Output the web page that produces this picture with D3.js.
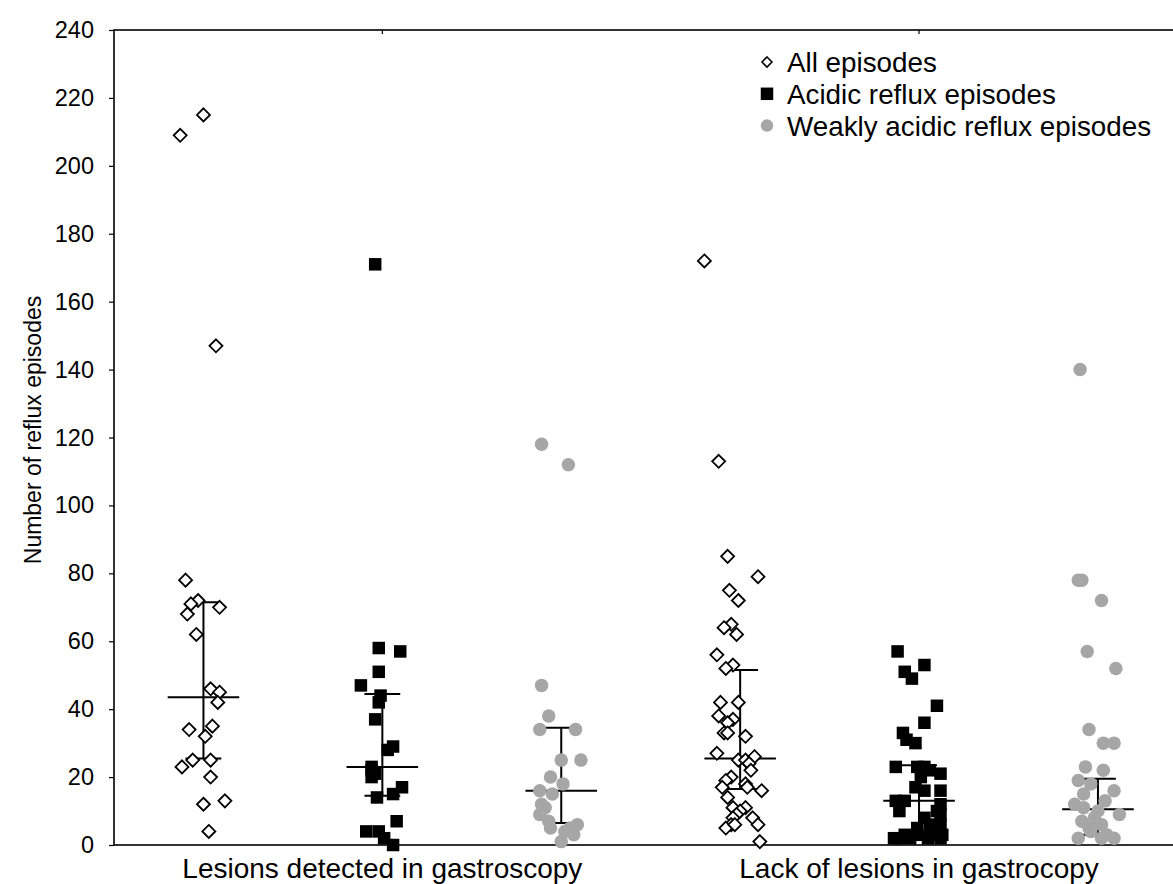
<!DOCTYPE html>
<html>
<head>
<meta charset="utf-8">
<script src="https://cdn.jsdelivr.net/npm/d3@7"></script>
<style>
    body { margin: 0; background: #ffffff; }
    text { font-family: "Liberation Sans", Arial, sans-serif; fill: #000000; }
</style>
</head>
<body>
<div id="chart"></div>
<script>
/**
 * Scatter of reflux episodes per patient, with median and quartile bars,
 * for patients with and without lesions in gastroscopy.
 */

// category labels under the x axis (centred on the middle column of a group)
let groupLabels = ["Lesions detected in gastroscopy", "Lack of lesions in gastrocopy"];
let groupPositions = [2, 5];

let seriesNames = ["All episodes", "Acidic reflux episodes", "Weakly acidic reflux episodes"];

// column index on the x axis, 1..6
let columns = [1, 2, 3, 4, 5, 6];

// values per column
let values1 = [209, 215, 147, 78, 72, 71, 70, 68, 62, 46, 45, 42, 34, 35, 32, 25, 25, 23, 20, 13, 12, 4];
let values2 = [171, 58, 57, 51, 47, 44, 42, 37, 29, 28, 23, 22, 21, 20, 17, 15, 14, 7, 4, 4, 2, 0];
let values3 = [118, 112, 47, 38, 34, 34, 25, 25, 20, 18, 16, 15, 12, 11, 9, 7, 5, 6, 5, 4, 3, 1];
let values4 = [172, 113, 85, 79, 75, 72, 65, 64, 62, 56, 53, 52, 42, 42, 38, 37, 36, 33, 33, 32, 27,
               25, 25, 26, 24, 22, 20, 19, 18, 17, 17, 16, 14, 11, 11, 10, 9, 8, 8, 6, 5, 6, 6, 1];
let values5 = [57, 53, 51, 49, 41, 36, 33, 31, 30, 23, 23, 23, 22, 21, 20, 17, 16, 16, 13, 13, 12,
               10, 10, 8, 9, 5, 6, 6, 3, 2, 3, 3, 3, 2, 2, 2, 2];
let values6 = [140, 78, 78, 72, 57, 52, 34, 30, 30, 23, 22, 19, 16, 18, 15, 13, 12, 9, 11, 8, 7, 6,
               5, 2, 2, 2, 4, 10, 3];

// horizontal scatter of each point around its column (in column units)
let jitter1 = [-0.13, 0.00, 0.07, -0.10, -0.03, -0.07, 0.09, -0.09, -0.04, 0.04, 0.09, 0.08, -0.08,
               0.05, 0.01, -0.06, 0.04, -0.12, 0.04, 0.12, 0.00, 0.03];
let jitter2 = [-0.04, -0.02, 0.10, -0.02, -0.12, -0.01, -0.02, -0.04, 0.06, 0.03, -0.06, -0.06,
               -0.04, -0.06, 0.11, 0.06, -0.03, 0.08, -0.09, -0.02, 0.01, 0.06];
let jitter3 = [-0.11, 0.04, -0.11, -0.07, -0.12, 0.08, 0.00, 0.11, -0.06, 0.01, -0.12, -0.05, -0.11,
               -0.09, -0.12, -0.07, -0.06, 0.09, 0.05, 0.02, 0.07, 0.00];
let jitter4 = [-0.20, -0.12, -0.07, 0.10, -0.06, -0.01, -0.05, -0.09, -0.02, -0.13, -0.04, -0.08,
               -0.11, -0.01, -0.12, -0.04, -0.07, -0.09, -0.07, 0.03, -0.13, -0.01, 0.03, 0.08,
               0.05, 0.06, -0.05, -0.08, 0.03, -0.10, 0.04, 0.12, -0.07, -0.04, 0.03, 0.00, -0.02,
               -0.04, 0.07, -0.05, -0.08, 0.10, -0.03, 0.11];
let jitter5 = [-0.12, 0.03, -0.08, -0.04, 0.10, 0.03, -0.09, -0.07, -0.02, -0.13, -0.01, 0.03, 0.06,
               0.12, 0.01, -0.02, 0.03, 0.12, -0.08, -0.13, 0.12, -0.11, 0.10, 0.03, 0.12, -0.01,
               0.06, 0.12, -0.08, -0.14, -0.01, 0.07, 0.13, -0.11, 0.05, 0.12, -0.05];
let jitter6 = [-0.10, -0.11, -0.09, 0.02, -0.06, 0.10, -0.05, 0.03, 0.09, -0.07, 0.03, -0.11, 0.09,
               -0.04, -0.08, 0.04, -0.13, 0.12, -0.08, -0.02, -0.09, 0.02, -0.05, -0.11, 0.09,
               0.02, -0.04, 0.00, 0.05];

// median, lower and upper quartile per column
let medians = [43.5, 23, 16, 25.5, 13, 10.5];
let lowerQuartiles = [25.5, 14.5, 6.5, 16.5, 4, 3];
let upperQuartiles = [71.5, 44.5, 34.5, 51.5, 23.5, 19.5];

let yTicks = d3.range(0, 241, 20);


window.onload = function() {
    let dims = {w: 1173, h: 884, left: 114, top: 30, bottom: 845, step: 178.9};

    let svg = d3.select("#chart")
                .append("svg")
                .attr("width", dims.w)
                .attr("height", dims.h);

    let xScale = d3.scaleLinear()
                   .domain([0.5, 6.5])
                   .range([dims.left, dims.left + 6 * dims.step]);

    let yScale = d3.scaleLinear()
                   .domain([0, 240])
                   .range([dims.bottom, dims.top]);

    drawFrame(svg, xScale, yScale, dims);
    drawSummaries(svg, xScale, yScale);

    let allValues = [values1, values2, values3, values4, values5, values6];
    let allJitter = [jitter1, jitter2, jitter3, jitter4, jitter5, jitter6];

    columns.forEach(function(col, i) {
        let points = allValues[i].map(function(v, j) {
            return {x: col + allJitter[i][j], y: v};
        });
        drawPoints(svg, points, (col - 1) % 3, xScale, yScale);
    });

    drawLegend(svg);
};


/**
 * Draws the box around the plot, the y axis and the category labels.
 */
function drawFrame(svg, xScale, yScale, dims) {
    let x0 = xScale.range()[0], x1 = xScale.range()[1];

    svg.append("rect")
       .attr("x", x0)
       .attr("y", dims.top)
       .attr("width", x1 - x0)
       .attr("height", dims.bottom - dims.top)
       .attr("fill", "none")
       .attr("stroke", "#000")
       .attr("stroke-width", 1.6);

    let yAxis = svg.append("g")
                   .attr("transform", "translate(" + x0 + ",0)")
                   .call(d3.axisLeft(yScale)
                           .tickValues(yTicks)
                           .tickSize(5)
                           .tickPadding(15));
    yAxis.select(".domain").remove();
    yAxis.selectAll("line").attr("stroke-width", 1.2);
    yAxis.selectAll("text")
         .style("font-family", "'Liberation Sans', Arial, sans-serif")
         .style("font-size", "23.5px");

    // small ticks at the top, over each group
    svg.selectAll(".top-tick")
       .data(groupPositions)
       .enter()
       .append("line")
       .attr("x1", d => xScale(d))
       .attr("x2", d => xScale(d))
       .attr("y1", dims.top)
       .attr("y2", dims.top + 4)
       .attr("stroke", "#000")
       .attr("stroke-width", 1.2);

    svg.selectAll(".group-label")
       .data(groupLabels)
       .enter()
       .append("text")
       .attr("x", (d, i) => xScale(groupPositions[i]))
       .attr("y", 878)
       .attr("text-anchor", "middle")
       .style("font-size", "28px")
       .text(d => d);

    svg.append("text")
       .attr("transform", "translate(41,430) rotate(-90)")
       .attr("text-anchor", "middle")
       .style("font-size", "23px")
       .text("Number of reflux episodes");
}


/**
 * Draws median bar and quartile range for every column.
 */
function drawSummaries(svg, xScale, yScale) {
    let unit = xScale(1) - xScale(0);
    let g = svg.append("g")
               .attr("stroke", "#000")
               .attr("stroke-width", 2);

    columns.forEach(function(col, i) {
        let cx = xScale(col);
        g.append("line")
         .attr("x1", cx).attr("x2", cx)
         .attr("y1", yScale(lowerQuartiles[i])).attr("y2", yScale(upperQuartiles[i]));
        g.append("line")
         .attr("x1", cx - 0.2 * unit).attr("x2", cx + 0.2 * unit)
         .attr("y1", yScale(medians[i])).attr("y2", yScale(medians[i]));
        [lowerQuartiles[i], upperQuartiles[i]].forEach(function(q) {
            g.append("line")
             .attr("x1", cx - 0.1 * unit).attr("x2", cx + 0.1 * unit)
             .attr("y1", yScale(q)).attr("y2", yScale(q));
        });
    });
}


/**
 * Returns a marker path for a series type, centred on 0,0.
 */
function markerPath(type, size) {
    let h = size / 2;
    if (type === 0) {
        return "M0," + (-h) + "L" + h + ",0L0," + h + "L" + (-h) + ",0Z";
    }
    if (type === 1) {
        return "M" + (-h) + "," + (-h) + "H" + h + "V" + h + "H" + (-h) + "Z";
    }
    return d3.symbol().type(d3.symbolCircle).size(Math.PI * h * h)();
}


/**
 * Draws the points of one column.
 */
function drawPoints(svg, points, type, xScale, yScale) {
    let sizes = [13, 12.5, 13.5];
    let fills = ["#ffffff", "#000000", "#a6a6a6"];

    svg.append("g")
       .selectAll("path")
       .data(points)
       .enter()
       .append("path")
       .attr("transform", d => "translate(" + xScale(d.x) + "," + yScale(d.y) + ")")
       .attr("d", markerPath(type, sizes[type]))
       .attr("fill", fills[type])
       .attr("stroke", type === 0 ? "#000" : "none")
       .attr("stroke-width", 1.8);
}


/**
 * Draws the legend in the top right corner.
 */
function drawLegend(svg) {
    let sizes = [10, 12.5, 12.5];
    let fills = ["#ffffff", "#000000", "#a6a6a6"];

    let rows = svg.append("g")
                  .selectAll("g")
                  .data(seriesNames)
                  .enter()
                  .append("g")
                  .attr("transform", (d, i) => "translate(767," + (62 + i * 31.8) + ")");

    rows.append("path")
        .attr("d", (d, i) => markerPath(i, sizes[i]))
        .attr("fill", (d, i) => fills[i])
        .attr("stroke", (d, i) => i === 0 ? "#000" : "none")
        .attr("stroke-width", 1.6);

    rows.append("text")
        .attr("x", 20)
        .attr("y", 10)
        .style("font-size", "27.8px")
        .text(d => d);
}
</script>
</body>
</html>
